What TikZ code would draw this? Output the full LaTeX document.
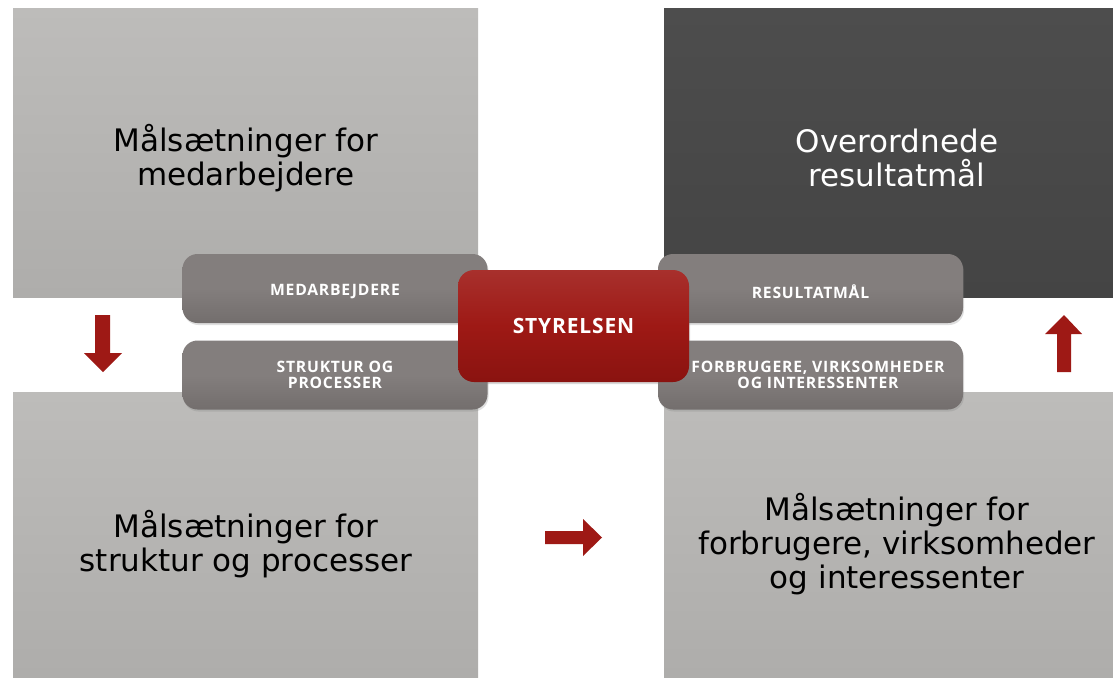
\documentclass[tikz,border=0pt]{standalone}
\usepackage{fontspec}
\setmainfont{DejaVu Sans}
\newfontfamily\boxfont[LetterSpace=5]{Open Sans}
\newfontfamily\redfont[LetterSpace=4]{Open Sans}
\usetikzlibrary{shadows}
\definecolor{lightq}{HTML}{BDBCBA}
\definecolor{lightqb}{HTML}{AEADAB}
\definecolor{darkq}{HTML}{4D4D4D}
\definecolor{darkqb}{HTML}{444444}
\definecolor{pillc}{HTML}{837E7D}
\definecolor{pilld}{HTML}{736E6D}
\definecolor{redc}{HTML}{9E1915}
\definecolor{redd}{HTML}{8A1310}
\tikzset{
  quad/.style={minimum width=465pt, anchor=north west, inner sep=0pt, top color=lightq, bottom color=lightqb, draw=none},
  quadtext/.style={font=\fontsize{31}{34}\selectfont, align=center, text=black},
  pill/.style={rounded corners=15pt, minimum width=305pt, minimum height=69pt, inner sep=0pt, top color=pillc, bottom color=pilld, middle color=pillc, draw=none, drop shadow={shadow xshift=1pt, shadow yshift=-2pt, opacity=0.25}},
  pilltext/.style={text=white, font=\boxfont\bfseries\fontsize{15.7}{16.5}\selectfont, align=center, inner sep=0pt},
  redbox/.style={rounded corners=16pt, minimum width=231pt, minimum height=112pt, inner sep=0pt, top color=redc!90!white, bottom color=redd, middle color=redc, draw=none, text=white, font=\redfont\bfseries\fontsize{21}{22}\selectfont, drop shadow={shadow xshift=1pt, shadow yshift=-2pt, opacity=0.3}},
  bigarrow/.style={fill=redc, draw=none}
}
\begin{document}
\begin{tikzpicture}[x=1pt,y=-1pt]
\useasboundingbox[fill=white] (0,0) rectangle (1113,677);
% quadrants
\node[quad, minimum height=289pt] (tl) at (13,8) {};
\node[quad, minimum width=449pt, minimum height=289pt, top color=darkq, bottom color=darkqb] (tr) at (664,8) {};
\node[quad, minimum height=285pt] (bl) at (13,392) {};
\node[quad, minimum width=449pt, minimum height=285pt] (br) at (664,392) {};
% quadrant texts
\node[quadtext] (tltxt) at (246,158) {Målsætninger for\\medarbejdere};
\node[quadtext, text=white] (trtxt) at (897,158) {Overordnede\\resultatmål};
\node[quadtext] (bltxt) at (246,544) {Målsætninger for\\struktur og processer};
\node[quadtext] (brtxt) at (897,544) {Målsætninger for\\forbrugere, virksomheder\\og interessenter};
% pills
\node[pill] (med) at (335,288.5) {};
\node[pill] (str) at (335,375) {};
\node[pill] (res) at (810.5,288.5) {};
\node[pill] (for) at (810.5,375) {};
\node[pilltext] (medt) at (335,291.5) {MEDARBEJDERE};
\node[pilltext] (strt) at (335,375) {STRUKTUR OG\\PROCESSER};
\node[pilltext] (rest) at (810.5,291.5) {RESULTATMÅL};
\node[pilltext] (fort) at (818,375) {FORBRUGERE, VIRKSOMHEDER\\OG INTERESSENTER};
% center
\node[redbox] (sty) at (573.5,326) {STYRELSEN};
% arrows
\fill[bigarrow] (95,315) -- (110,315) -- (110,353) -- (122,353) -- (103,372) -- (84,353) -- (95,353) -- cycle;
\fill[bigarrow] (1057,372) -- (1071,372) -- (1071,334) -- (1082,334) -- (1064,315) -- (1045,334) -- (1057,334) -- cycle;
\fill[bigarrow] (545,531) -- (583,531) -- (583,519) -- (602,537.5) -- (583,556) -- (583,544) -- (545,544) -- cycle;
\end{tikzpicture}
\end{document}
